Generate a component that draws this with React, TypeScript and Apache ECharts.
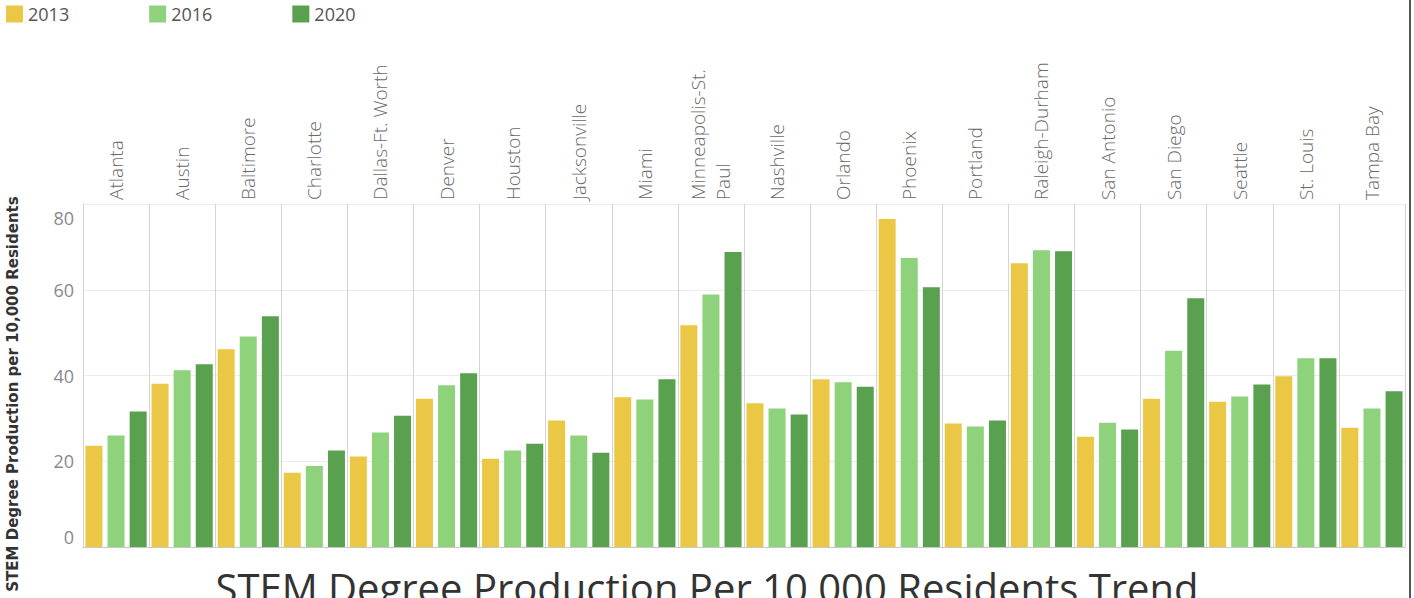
import React, { useEffect, useRef } from "react";
import * as echarts from "echarts";

const cities = [
  "Atlanta", "Austin", "Baltimore", "Charlotte", "Dallas-Ft. Worth", "Denver", "Houston",
  "Jacksonville", "Miami", "Minneapolis-St.\nPaul", "Nashville", "Orlando", "Phoenix",
  "Portland", "Raleigh-Durham", "San Antonio", "San Diego", "Seattle", "St. Louis", "Tampa Bay",
];
const years = ["2013", "2016", "2020"];
const v2013 = [23.6, 38.1, 46.1, 17.3, 21.1, 34.6, 20.6, 29.5, 34.9, 51.7, 33.5, 39.1, 76.5, 28.8, 66.2, 25.7, 34.6, 33.9, 39.8, 27.8];
const v2016 = [26.0, 41.2, 49.1, 18.9, 26.7, 37.7, 22.5, 26.0, 34.4, 58.9, 32.3, 38.4, 67.4, 28.1, 69.2, 29.0, 45.8, 35.1, 44.0, 32.3];
const v2020 = [31.6, 42.6, 53.8, 22.5, 30.6, 40.5, 24.1, 22.0, 39.1, 68.8, 30.9, 37.4, 60.6, 29.5, 69.0, 27.4, 58.0, 37.9, 44.0, 36.3];
const yTicks = [0, 20, 40, 60, 80];
const colors = ["#EAC744", "#8ED27C", "#59A14F"];

const FONT = "'Open Sans', 'Noto Sans', sans-serif";

export default function App() {
  const ref = useRef<HTMLDivElement>(null);
  useEffect(() => {
    if (!ref.current) return;
    const chart = echarts.init(ref.current, undefined, { renderer: "svg" });
    const seriesData = [v2013, v2016, v2020];
    chart.setOption({
      animation: false,
      textStyle: { fontFamily: FONT },
      title: {
        text: "STEM Degree Production Per 10,000 Residents Trend",
        left: "center",
        top: 562,
        textStyle: { fontFamily: FONT, fontSize: 40, fontWeight: "normal", color: "#333" },
      },
      legend: {
        left: 6,
        top: 5,
        padding: 0,
        itemWidth: 17,
        itemHeight: 17,
        itemGap: 80,
        icon: "rect",
        data: years,
        textStyle: { fontFamily: FONT, fontSize: 18, color: "#555" },
      },
      grid: { left: 83, right: 9, top: 204, bottom: 51, containLabel: false },
      xAxis: [
        {
          type: "category",
          data: cities,
          position: "top",
          boundaryGap: true,
          axisLine: { show: true, lineStyle: { color: "#cfcfcf", width: 1 } },
          axisTick: { show: true, length: 146, interval: 0, lineStyle: { color: "#d4d4d4", width: 1 } },
          axisLabel: {
            interval: 0,
            rotate: 90,
            margin: 4,
            fontFamily: FONT,
            fontSize: 19,
            fontWeight: 300,
            color: "#6a6a6a",
            lineHeight: 25,
          },
          splitLine: { show: true, interval: 0, lineStyle: { color: "#d4d4d4", width: 1 } },
        },
        {
          type: "category",
          data: cities,
          position: "bottom",
          axisLine: { show: true, lineStyle: { color: "#c8c8c8", width: 1 } },
          axisTick: { show: false },
          axisLabel: { show: false },
          splitLine: { show: false },
        },
      ],
      yAxis: {
        type: "value",
        min: 0,
        max: 80,
        interval: 20,
        axisLine: { show: true, lineStyle: { color: "#d4d4d4" } },
        axisTick: { show: false },
        splitLine: { show: true, lineStyle: { color: "#ececec", width: 1 } },
        axisLabel: {
          margin: 9,
          fontFamily: FONT,
          fontSize: 18,
          color: "#8a8a8a",
          formatter: (v: number) => {
            if (!yTicks.includes(v)) return "";
            if (v === 80) return "{top|80}";
            if (v === 0) return "{bot|0}";
            return String(v);
          },
          rich: {
            top: { fontFamily: FONT, fontSize: 18, color: "#8a8a8a", padding: [28, 0, 0, 0] },
            bot: { fontFamily: FONT, fontSize: 18, color: "#8a8a8a", padding: [0, 0, 20, 0] },
          },
        },
      },
      series: years.map((y, i) => ({
        name: y,
        type: "bar",
        xAxisIndex: 0,
        data: seriesData[i],
        barWidth: 17,
        barGap: "30%",
        itemStyle: { color: colors[i] },
      })),
      graphic: [
        {
          type: "text",
          x: 13,
          y: 394,
          rotation: Math.PI / 2,
          style: {
            text: "STEM Degree Production per 10,000 Residents",
            fontFamily: "'DejaVu Sans', sans-serif",
            fontSize: 15,
            fontWeight: "bold",
            fill: "#333",
            align: "center",
            verticalAlign: "middle",
          },
        },
        {
          type: "rect",
          shape: { x: 1409, y: 0, width: 2, height: 598 },
          style: { fill: "#555" },
        },
      ],
    });
    return () => chart.dispose();
  }, []);
  return <div ref={ref} style={{ width: 1414, height: 598, position: "absolute", left: 0, top: 0 }} />;
}
